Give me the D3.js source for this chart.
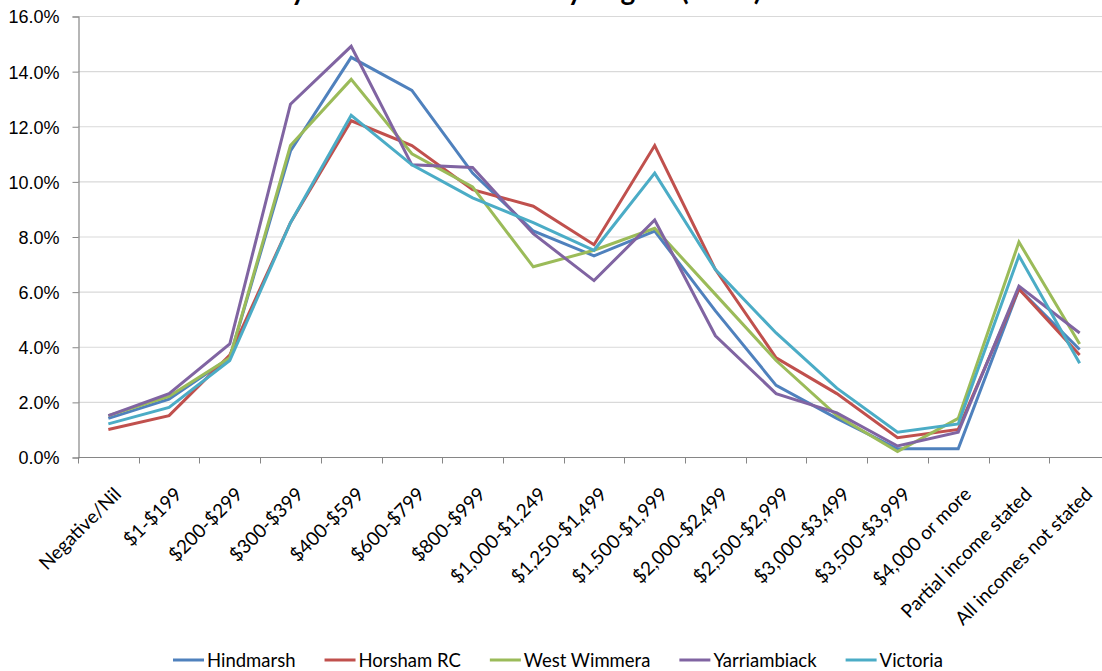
<!DOCTYPE html>
<html>
<head>
<meta charset="utf-8">
<script src="https://cdn.jsdelivr.net/npm/d3@7"></script>
<style>
  html, body { margin: 0; padding: 0; background: #ffffff; }
  svg { display: block; font-family: Lato, "Open Sans", sans-serif; }
</style>
</head>
<body>
<svg id="chart" width="1102" height="671"></svg>
<script>
const categories = ["Negative/Nil", "$1-$199", "$200-$299", "$300-$399", "$400-$599", "$600-$799",
  "$800-$999", "$1,000-$1,249", "$1,250-$1,499", "$1,500-$1,999", "$2,000-$2,499", "$2,500-$2,999",
  "$3,000-$3,499", "$3,500-$3,999", "$4,000 or more", "Partial income stated", "All incomes not stated"];

const hindmarsh   = [1.4, 2.1, 3.6, 11.1, 14.5, 13.3, 10.3, 8.2, 7.3, 8.2, 5.3, 2.6, 1.4, 0.3, 0.3, 6.1, 3.9];
const horshamRC   = [1.0, 1.5, 3.7, 8.5, 12.2, 11.3, 9.7, 9.1, 7.7, 11.3, 6.8, 3.6, 2.3, 0.7, 1.0, 6.1, 3.7];
const westWimmera = [1.5, 2.2, 3.6, 11.3, 13.7, 11.0, 9.8, 6.9, 7.5, 8.3, 5.9, 3.5, 1.5, 0.2, 1.4, 7.8, 4.1];
const yarriambiack= [1.5, 2.3, 4.1, 12.8, 14.9, 10.6, 10.5, 8.1, 6.4, 8.6, 4.4, 2.3, 1.6, 0.4, 0.9, 6.2, 4.5];
const victoria    = [1.2, 1.8, 3.5, 8.5, 12.4, 10.6, 9.4, 8.5, 7.5, 10.3, 6.8, 4.5, 2.5, 0.9, 1.2, 7.3, 3.4];

const seriesNames = ["Hindmarsh", "Horsham RC", "West Wimmera", "Yarriambiack", "Victoria"];
const seriesValues = [hindmarsh, horshamRC, westWimmera, yarriambiack, victoria];
const seriesColors = ["#4F81BD", "#C0504D", "#9BBB59", "#8064A2", "#4BACC6"];
const yTicks = [0, 2, 4, 6, 8, 10, 12, 14, 16];
const titleText = "Weekly Household Income by Region (2011)";

const svg = d3.select("#chart");
const plotLeft = 78, plotRight = 1110, plotTop = 16, plotBottom = 457;

const x = d3.scaleBand().domain(categories).range([plotLeft, plotRight]).padding(0);
const y = d3.scaleLinear().domain([0, 16]).range([plotBottom, plotTop]);

// Title (cut off at the top edge in the reference: only descenders show)
const title = svg.append("text")
  .attr("x", 0).attr("y", -0.5)
  .attr("font-size", 28).attr("font-weight", "bold").attr("fill", "#000")
  .text(titleText);
{
  const n = title.node();
  const p = n.getStartPositionOfChar(titleText.indexOf("y")).x;
  title.attr("x", 291 - p);
}

// gridlines
svg.append("g").selectAll("line").data(yTicks.filter(d => d > 0)).join("line")
  .attr("x1", plotLeft).attr("x2", 1102)
  .attr("y1", d => y(d) + 0.5).attr("y2", d => y(d) + 0.5)
  .attr("stroke", "#D9D9D9").attr("stroke-width", 1.2);

// y axis
const yAxis = d3.axisLeft(y).tickValues(yTicks).tickSize(6).tickPadding(13)
  .tickFormat(d => d.toFixed(1) + "%");
const gy = svg.append("g").attr("transform", `translate(${plotLeft + 0.5},0.5)`).call(yAxis);
gy.select(".domain").attr("stroke", "#868686").attr("stroke-width", 1.2);
gy.selectAll(".tick line").attr("stroke", "#868686");
gy.selectAll(".tick text").attr("font-size", 18).attr("fill", "#000").attr("dy", "0.36em");

// x axis
const gx = svg.append("g").attr("transform", `translate(0,${plotBottom + 0.5})`);
gx.append("line").attr("x1", plotLeft).attr("x2", 1102).attr("y1", 0).attr("y2", 0)
  .attr("stroke", "#868686").attr("stroke-width", 1.2);
const boundaries = categories.map(c => x(c)).concat([x(categories[categories.length - 1]) + x.bandwidth()]);
gx.selectAll("line.tk").data(boundaries).join("line").attr("class", "tk")
  .attr("x1", d => Math.round(d) + 0.5).attr("x2", d => Math.round(d) + 0.5)
  .attr("y1", 0).attr("y2", 6).attr("stroke", "#868686");
gx.selectAll("text").data(categories).join("text")
  .attr("transform", d => `translate(${x(d) + x.bandwidth() / 2 + 14},${38}) rotate(-45)`)
  .attr("text-anchor", "end")
  .attr("font-size", 19).attr("fill", "#000")
  .text(d => d);

// lines
const line = d3.line()
  .x((d, i) => x(categories[i]) + x.bandwidth() / 2)
  .y(d => y(d));
svg.append("g").selectAll("path").data(seriesValues).join("path")
  .attr("d", d => line(d))
  .attr("fill", "none")
  .attr("stroke", (d, i) => seriesColors[i])
  .attr("stroke-width", 3)
  .attr("stroke-linejoin", "miter");

// legend
const lg = svg.append("g").attr("transform", "translate(0,660)");
let lx = 173;
seriesNames.forEach((name, i) => {
  const g = lg.append("g");
  g.append("line").attr("x1", lx).attr("x2", lx + 31).attr("y1", 0).attr("y2", 0)
    .attr("stroke", seriesColors[i]).attr("stroke-width", 3);
  const t = g.append("text").attr("x", lx + 34).attr("y", 6.5)
    .attr("font-size", 18.5).attr("fill", "#000").text(name);
  lx += 34 + t.node().getComputedTextLength() + 29;
});
</script>
</body>
</html>
